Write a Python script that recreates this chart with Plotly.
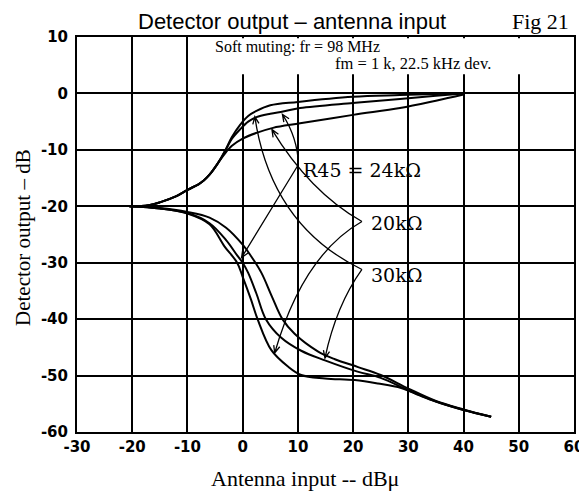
import math
import plotly.graph_objects as go

# ---------------- data ----------------
# upper branch (signal output) for each R45 value
up_x_30k = [-20.5, -17, -15, -12, -10, -8, -7, -6, -5, -4, -3, -2, -0.5, 1, 2.5, 5, 10, 20, 28.5, 35, 40]
up_y_30k = [-20, -19.8, -19.3, -18.2, -17.1, -16.1, -15.4, -14.4, -13.1, -11.6, -9.8, -7.8, -5.6, -4.0, -3.1, -2.1, -1.5, -0.6, -0.3, -0.1, 0]

up_x_24k = [-20.5, -17, -15, -12, -10, -8, -7, -6, -5, -4, -3, -2, -0.5, 1, 2.5, 5, 7.3, 10.4, 20, 28.5, 35, 40]
up_y_24k = [-20, -19.8, -19.3, -18.2, -17.1, -16.1, -15.4, -14.4, -13.1, -11.6, -9.9, -8.1, -6.4, -5.0, -4.2, -3.6, -3.2, -2.6, -1.7, -1.0, -0.4, 0]

up_x_20k = [-20.5, -17, -15, -12, -10, -8, -7, -6, -5, -4, -3, -2, 0, 2.5, 5.5, 10.4, 20, 28.5, 35, 40]
up_y_20k = [-20, -19.8, -19.3, -18.2, -17.1, -16.1, -15.4, -14.4, -13.1, -11.7, -10.4, -9.3, -8.0, -7.0, -6.1, -5.3, -3.8, -2.6, -1.3, -0.2]

# lower branch (noise output) for each R45 value
lo_x_30k = [-20.5, -15, -10, -6, -3, 0, 1.5, 3.4, 5.3, 7.2, 9.4, 13.6, 16.7, 20.9, 25, 30, 35, 40, 45]
lo_y_30k = [-20, -20.3, -21.0, -22.0, -23.8, -26.8, -28.8, -31.8, -36.0, -40.0, -42.6, -45.7, -47.1, -48.5, -49.9, -52.3, -54.5, -56.0, -57.3]

lo_x_24k = [-20.5, -15, -10, -6, -3, -1, 0, 1.0, 2.5, 4.2, 7, 10.6, 14.9, 20.8, 25, 30, 35, 40, 45]
lo_y_24k = [-20, -20.4, -21.2, -23.0, -26.0, -28.7, -30.0, -31.8, -35.5, -40.0, -43.3, -45.6, -47.3, -49.3, -50.4, -52.6, -54.6, -56.1, -57.3]

lo_x_20k = [-20.5, -15, -10, -6, -3.3, -1, 0, 1.5, 2.7, 5.2, 8.2, 10.6, 14.9, 20.3, 24.5, 28.7, 32, 35, 40, 45]
lo_y_20k = [-20, -20.4, -21.3, -23.2, -27.1, -30.0, -32.5, -36.5, -40.0, -45.5, -48.4, -49.9, -50.5, -50.8, -51.4, -52.2, -53.5, -54.6, -56.1, -57.3]

# axis ticks
x_tick_vals = [-30, -20, -10, 0, 10, 20, 30, 40, 50, 60]
x_tick_text = ["-30", "-20", "-10", "0", "10", "20", "30", "40", "50", "60"]
y_tick_vals = [10, 0, -10, -20, -30, -40, -50, -60]
y_tick_text = ["10", "0", "-10", "-20", "-30", "-40", "-50", "-60"]

# callout arrows: (start, bulge point, arrow tip) in data units
arrow_start = [(10.1, -12.6), (10.1, -12.6), (21.6, -22.7), (21.6, -22.7), (21.6, -31.2), (21.6, -31.2)]
arrow_mid   = [(9.3, -8.0), (4.95, -20.85), (12.8, -16.0), (12.3, -31.5), (8.5, -20.5), (17.6, -38.3)]
arrow_tip   = [(7.2, -3.7), (-0.2, -29.1), (5.3, -6.4), (5.8, -46.0), (2.2, -4.1), (14.9, -46.9)]

labels_text = ["R45 = 24kΩ", "20kΩ", "30kΩ"]
labels_pos = [(10.6, -13.6), (22.9, -23.0), (22.9, -32.1)]

# ---------------- figure ----------------
fig = go.Figure()
line = dict(color="black", width=2, shape="spline", smoothing=1.0)
for xs, ys, nm in [(up_x_30k, up_y_30k, "30k up"), (up_x_24k, up_y_24k, "24k up"),
                   (up_x_20k, up_y_20k, "20k up"), (lo_x_30k, lo_y_30k, "30k low"),
                   (lo_x_24k, lo_y_24k, "24k low"), (lo_x_20k, lo_y_20k, "20k low")]:
    fig.add_trace(go.Scatter(x=xs, y=ys, mode="lines", line=line, name=nm,
                             showlegend=False, hoverinfo="skip"))

# curved arrows as path shapes
SX, SY = 5.52, 5.64  # px per data unit (for arrowhead geometry)
for p0, m, p2 in zip(arrow_start, arrow_mid, arrow_tip):
    cx = 2 * m[0] - 0.5 * (p0[0] + p2[0])
    cy = 2 * m[1] - 0.5 * (p0[1] + p2[1])
    dx = (p2[0] - cx) * SX
    dy = (p2[1] - cy) * SY
    ang = math.atan2(dy, dx)
    heads = []
    for da in (0.4, -0.4):
        a = ang + math.pi + da
        hx = p2[0] + 8 * math.cos(a) / SX
        hy = p2[1] + 8 * math.sin(a) / SY
        heads.append((hx, hy))
    path = (f"M {p0[0]},{p0[1]} Q {cx},{cy} {p2[0]},{p2[1]} "
            f"M {heads[0][0]},{heads[0][1]} L {p2[0]},{p2[1]} L {heads[1][0]},{heads[1][1]}")
    fig.add_shape(type="path", path=path, xref="x", yref="y",
                  line=dict(color="black", width=1.3))

# white box behind the conditions text
fig.add_shape(type="rect", x0=-5.5, x1=59.7, y0=3.4, y1=9.8, xref="x", yref="y",
              fillcolor="white", line=dict(width=0), layer="above")

serif = "Liberation Serif"
for t, (x, y) in zip(labels_text, labels_pos):
    fig.add_annotation(x=x, y=y, text=t, showarrow=False, xanchor="left", yanchor="middle",
                       font=dict(family="DejaVu Serif", size=19, color="black"))

fig.add_annotation(x=-5.4, y=8.3, text="Soft muting: fr = 98 MHz", showarrow=False,
                   xanchor="left", yanchor="middle",
                   font=dict(family=serif, size=16, color="black"))
fig.add_annotation(x=16.3, y=5.3, text="fm = 1 k, 22.5 kHz dev.", showarrow=False,
                   xanchor="left", yanchor="middle",
                   font=dict(family=serif, size=16.5, color="black"))

# plot area in page pixels: x 77..574, y 37..432
fig.add_annotation(text="Detector output – antenna input", xref="paper", yref="paper",
                   x=(292 - 77) / 497, y=1 + (37 - 21) / 395, xanchor="center", yanchor="middle",
                   showarrow=False, font=dict(family="Liberation Sans", size=22, color="black"))
fig.add_annotation(text="Fig 21", xref="paper", yref="paper",
                   x=(571 - 77) / 497, y=1 + (37 - 21) / 395, xanchor="right", yanchor="middle",
                   showarrow=False, font=dict(family=serif, size=22, color="black"))
fig.add_annotation(text="Antenna input -- dBμ", xref="paper", yref="paper",
                   x=(305 - 77) / 497, y=-(478 - 432) / 395, xanchor="center", yanchor="middle",
                   showarrow=False, font=dict(family=serif, size=22, color="black"))
fig.add_annotation(text="Detector output – dB", xref="paper", yref="paper", textangle=-90,
                   x=(23 - 77) / 497, y=(432 - 238) / 395, xanchor="center", yanchor="middle",
                   showarrow=False, font=dict(family=serif, size=21, color="black"))

axis_common = dict(showgrid=True, gridcolor="black", gridwidth=1.6, zeroline=False,
                   showline=True, linecolor="black", linewidth=2, mirror=True, automargin=False,
                   ticks="", tickfont=dict(family="DejaVu Sans", size=15, color="black", weight="bold"))
fig.update_xaxes(range=[-30, 60], tickvals=x_tick_vals, ticktext=x_tick_text, **axis_common)
fig.update_yaxes(range=[-60, 10], tickvals=y_tick_vals, ticktext=y_tick_text,
                 ticklabelstandoff=4, **axis_common)

# page body adds 8px offset; margins chosen so plot area sits at x 77..574, y 37..432
fig.update_layout(width=587, height=496, margin=dict(l=69, r=21, t=29, b=72),
                  plot_bgcolor="white", paper_bgcolor="white", showlegend=False)

fig.write_html("out.html")
